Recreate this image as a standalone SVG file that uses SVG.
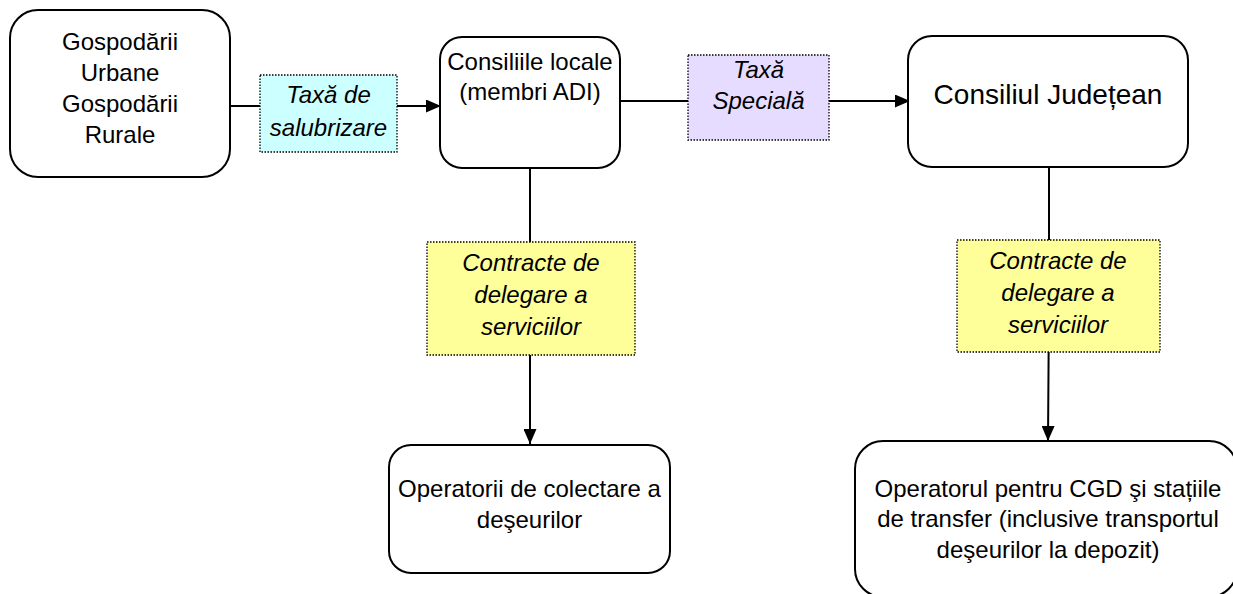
<svg xmlns="http://www.w3.org/2000/svg" width="1233" height="594" viewBox="0 0 1233 594">
<style>
.node{fill:#fff;stroke:#000;stroke-width:2}
.lbl{stroke:#000;stroke-width:1.3;stroke-dasharray:1.5 1.5}
.t{font-family:"Liberation Sans",Arial,sans-serif;font-size:24px;fill:#000;text-anchor:middle}
.i{font-style:italic}
.c{stroke:#000;stroke-width:2;fill:none}
</style>
<defs>
<marker id="ah" markerWidth="15" markerHeight="13" refX="15" refY="6.5" orient="auto" markerUnits="userSpaceOnUse">
<path d="M0,0 L15,6.5 L0,13 Z" fill="#000"/>
</marker>
</defs>
<g id="connectors">
<path class="c" d="M230,106 H441" marker-end="url(#ah)"/>
<path class="c" d="M620,101 H910" marker-end="url(#ah)"/>
<path class="c" d="M530,168 V444" marker-end="url(#ah)"/>
<path class="c" d="M1049,167 V300 L1048,441" marker-end="url(#ah)"/>
</g>
<g id="gospodarii">
<rect class="node" x="10" y="10" width="220" height="167" rx="28"/>
<text class="t" x="120" y="50">Gospodării</text>
<text class="t" x="120" y="81">Urbane</text>
<text class="t" x="120" y="112">Gospodării</text>
<text class="t" x="120" y="143">Rurale</text>
</g>
<g id="taxa-salubrizare">
<rect class="lbl" x="260" y="75" width="137" height="77" fill="#ccffff"/>
<text class="t i" x="328.5" y="103">Taxă de</text>
<text class="t i" x="328.5" y="136">salubrizare</text>
</g>
<g id="consiliile-locale">
<rect class="node" x="440" y="37" width="180" height="131" rx="22"/>
<text class="t" x="530" y="70">Consiliile locale</text>
<text class="t" x="530" y="100">(membri ADI)</text>
</g>
<g id="taxa-speciala">
<rect class="lbl" x="688" y="55" width="141" height="85" fill="#e6dcff"/>
<text class="t i" x="758.5" y="78">Taxă</text>
<text class="t i" x="758.5" y="109">Specială</text>
</g>
<g id="consiliul-judetean">
<rect class="node" x="908" y="36" width="280" height="131" rx="24"/>
<text class="t" x="1048" y="104" style="font-size:28px">Consiliul Județean</text>
</g>
<g id="contracte-1">
<rect class="lbl" x="427" y="242" width="208" height="113" fill="#ffff99"/>
<text class="t i" x="531" y="271">Contracte de</text>
<text class="t i" x="531" y="303">delegare a</text>
<text class="t i" x="531" y="335">serviciilor</text>
</g>
<g id="contracte-2">
<rect class="lbl" x="957" y="240" width="203" height="112" fill="#ffff99"/>
<text class="t i" x="1058" y="269">Contracte de</text>
<text class="t i" x="1058" y="301">delegare a</text>
<text class="t i" x="1058" y="333">serviciilor</text>
</g>
<g id="operatorii-colectare">
<rect class="node" x="389" y="445" width="281" height="128" rx="22"/>
<text class="t" x="529.5" y="497">Operatorii de colectare a</text>
<text class="t" x="529.5" y="528">deşeurilor</text>
</g>
<g id="operatorul-cgd">
<rect class="node" x="855" y="441" width="382" height="156" rx="28"/>
<text class="t" x="1048" y="497">Operatorul pentru CGD şi stațiile</text>
<text class="t" x="1048" y="527">de transfer (inclusive transportul</text>
<text class="t" x="1048" y="558">deşeurilor la depozit)</text>
</g>
</svg>
